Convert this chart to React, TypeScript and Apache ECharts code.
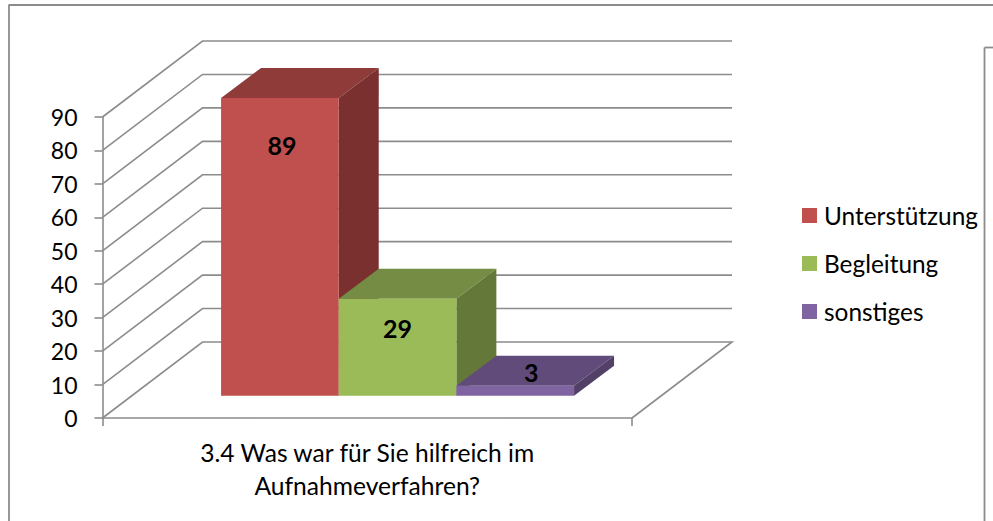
import React, { useEffect, useRef } from "react";
import * as echarts from "echarts";

const categories = ["3.4 Was war für Sie hilfreich im\nAufnahmeverfahren?"];
const seriesNames = ["Unterstützung", "Begleitung", "sonstiges"];
const seriesValues = [89, 29, 3];
const yTicks = [0, 10, 20, 30, 40, 50, 60, 70, 80, 90];

const frontColors = ["#C0504D", "#9BBB59", "#8064A2"];
const topColors = ["#8F3B39", "#748C43", "#604B7A"];
const sideColors = ["#7A302E", "#637839", "#524066"];

const FONT = "Lato";
const LINE = "#8C8C8C";
const LINE_W = 1.6;
const WALL_DX = 100;
const WALL_DY = -76;
const BAR_SHIFT_X = 30.3;
const BAR_SHIFT_Y = -22.3;
const BAR_DX = 40;
const BAR_DY = -30;
const BAR_FRACTION = 0.2222;
const labelNudges = [
  [2, 47],
  [0, 29],
  [16, -14],
];

function wallRenderer(params: any, api: any) {
  const value = api.value(1);
  const p = api.coord([0, value]);
  const cs = params.coordSys;
  const x0 = cs.x;
  const y = p[1];
  const style = { stroke: LINE, lineWidth: LINE_W, fill: "none" };
  const pts = [
    [x0, y],
    [x0 + WALL_DX, y + WALL_DY],
    [x0 + cs.width + WALL_DX, y + WALL_DY],
  ];
  if (value === 0) pts.push([x0 + cs.width, y]);
  return { type: "polyline", shape: { points: pts }, style };
}

function barRenderer(index: number) {
  return (params: any, api: any) => {
    const w = api.size([1, 0])[0] * BAR_FRACTION;
    const top = api.coord([0, api.value(1)]);
    const base = api.coord([0, 0]);
    const left = top[0] - 1.5 * w + index * w + BAR_SHIFT_X;
    const right = left + w;
    const yTop = top[1] + BAR_SHIFT_Y;
    const yBase = base[1] + BAR_SHIFT_Y;
    return {
      type: "group",
      children: [
        {
          type: "polygon",
          shape: {
            points: [
              [left, yTop],
              [right, yTop],
              [right + BAR_DX, yTop + BAR_DY],
              [left + BAR_DX, yTop + BAR_DY],
            ],
          },
          style: { fill: topColors[index] },
        },
        {
          type: "polygon",
          shape: {
            points: [
              [right, yTop],
              [right + BAR_DX, yTop + BAR_DY],
              [right + BAR_DX, yBase + BAR_DY],
              [right, yBase],
            ],
          },
          style: { fill: sideColors[index] },
        },
        {
          type: "rect",
          shape: { x: left, y: yTop, width: w, height: yBase - yTop },
          style: { fill: frontColors[index] },
        },
        {
          type: "text",
          x: left + w / 2 + labelNudges[index][0],
          y: yTop + labelNudges[index][1],
          style: {
            text: String(api.value(1)),
            font: `bold 25px ${FONT}`,
            fill: "#000",
            align: "center",
            verticalAlign: "middle",
          },
        },
      ],
    };
  };
}

export default function App() {
  const ref = useRef<HTMLDivElement>(null);
  useEffect(() => {
    const chart = echarts.init(ref.current!, undefined, { renderer: "svg" });
    chart.setOption({
      animation: false,
      backgroundColor: "#fff",
      textStyle: { fontFamily: FONT },
      grid: { left: 102.5, top: 117, width: 529.5, height: 301 },
      xAxis: {
        type: "category",
        data: categories,
        axisLine: { lineStyle: { color: LINE, width: LINE_W } },
        axisTick: { show: true, length: 8, lineStyle: { color: LINE, width: LINE_W } },
        axisLabel: {
          color: "#000",
          fontFamily: FONT,
          fontSize: 24.6,
          lineHeight: 33,
          margin: 17.5,
          interval: 0,
        },
      },
      yAxis: {
        type: "value",
        min: 0,
        max: 90,
        interval: 10,
        splitLine: { show: false },
        axisLine: { show: true, lineStyle: { color: LINE, width: LINE_W } },
        axisTick: { show: true, length: 8, lineStyle: { color: LINE, width: LINE_W } },
        axisLabel: { color: "#000", fontFamily: FONT, fontSize: 23, margin: 25 },
      },
      legend: {
        data: seriesNames,
        orient: "vertical",
        left: 802,
        top: 203.5,
        padding: 0,
        icon: "rect",
        itemWidth: 15,
        itemHeight: 15,
        itemGap: 24,
        selectedMode: false,
        textStyle: { color: "#000", fontFamily: FONT, fontSize: 24.4, padding: [0, 0, 0, 2] },
      },
      graphic: [
        { type: "line", shape: { x1: 8.5, y1: 5, x2: 993, y2: 5 }, style: { stroke: LINE, lineWidth: 1.8 } },
        { type: "line", shape: { x1: 9, y1: 5, x2: 9, y2: 521 }, style: { stroke: LINE, lineWidth: 1.8 } },
        { type: "line", shape: { x1: 984.5, y1: 47.5, x2: 993, y2: 47.5 }, style: { stroke: LINE, lineWidth: 1.8 } },
        { type: "line", shape: { x1: 984.5, y1: 47.5, x2: 984.5, y2: 521 }, style: { stroke: LINE, lineWidth: 1.8 } },
      ],
      series: [
        {
          type: "custom",
          name: "wall",
          silent: true,
          renderItem: wallRenderer,
          data: yTicks.map((v) => [0, v]),
          encode: { x: 0, y: 1 },
          z: 1,
        },
        ...seriesNames.map((name, i) => ({
          type: "custom",
          name,
          silent: true,
          itemStyle: { color: frontColors[i] },
          renderItem: barRenderer(i),
          data: [[0, seriesValues[i]]],
          encode: { x: 0, y: 1 },
          z: 2 + i,
        })),
      ],
    });
    return () => chart.dispose();
  }, []);
  return (
    <div
      ref={ref}
      style={{ position: "fixed", left: 0, top: 0, width: 993, height: 521 }}
    />
  );
}
